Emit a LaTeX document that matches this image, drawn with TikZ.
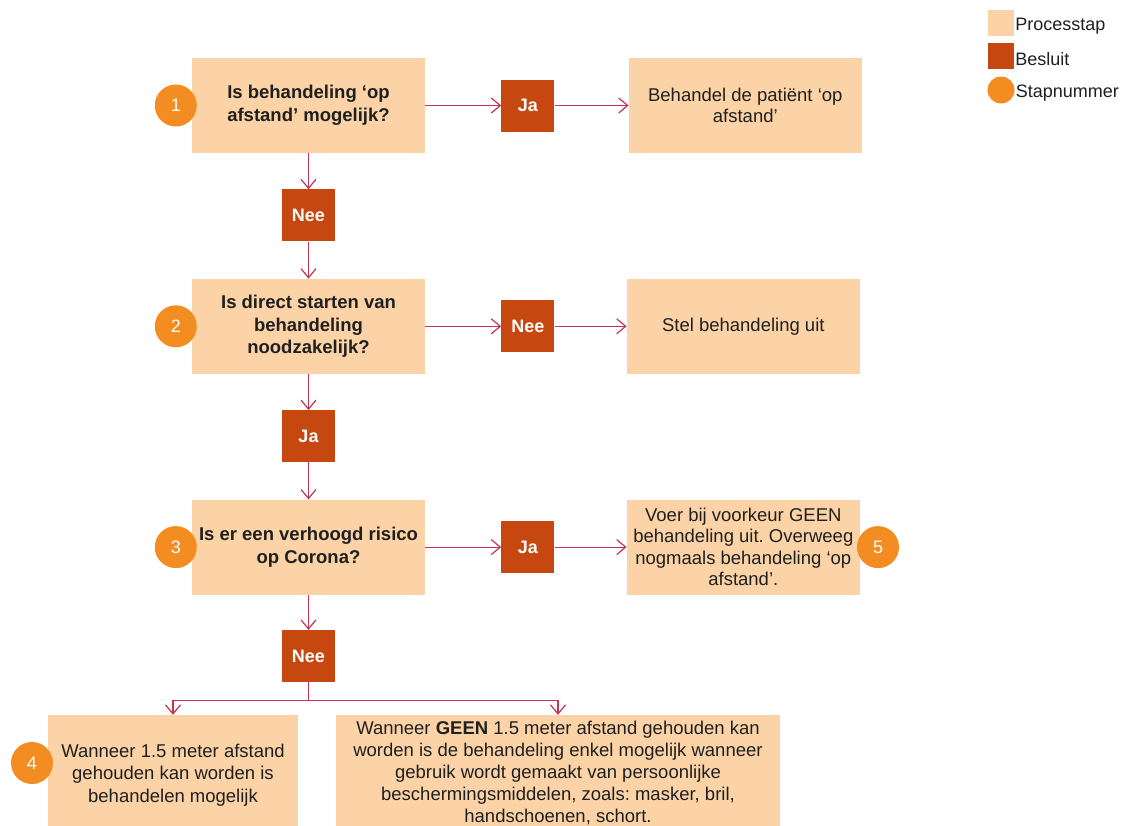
\documentclass[tikz,border=0pt]{standalone}
\usepackage{fontspec}
\setmainfont{Liberation Sans}
\frenchspacing
\usetikzlibrary{positioning,arrows.meta}
\definecolor{stapkleur}{HTML}{FBD3A6}
\definecolor{besluitkleur}{HTML}{C6470F}
\definecolor{nummerkleur}{HTML}{F48D21}
\definecolor{pijlkleur}{HTML}{C2344F}

\begin{document}
\begin{tikzpicture}[x=1pt, y=-1pt,
  stap/.style={fill=stapkleur, shape=rectangle, minimum width=233pt, minimum height=95pt, inner sep=2pt, align=center, text=black!88, font=\fontsize{18.5}{21.5}\selectfont},
  vraag/.style={stap, font=\fontsize{18.5}{22.5}\selectfont\bfseries},
  besluit/.style={fill=besluitkleur, shape=rectangle, minimum width=53pt, minimum height=52pt, text=white, font=\fontsize{18}{20}\selectfont\bfseries},
  nummer/.style={fill=nummerkleur, shape=circle, minimum size=42pt, inner sep=0pt, text=white, font=\fontsize{18}{20}\selectfont},
  pijl/.style={draw=pijlkleur, line width=1.2pt, -{Straight Barb[length=9pt,width=15pt]}},
  legenda/.style={right=1pt, yshift=-3pt, inner sep=0pt, text=black!88, font=\fontsize{18}{20}\selectfont}]
\useasboundingbox (0,0) rectangle (1132,825);
\clip (0,0) rectangle (1132,825);

\node[vraag] (vraag1) at (308.5,105.5) {Is behandeling ‘op\\afstand’ mogelijk?};
\node[besluit, right=76pt of vraag1] (ja1) {Ja};
\node[stap, right=74pt of ja1] (opafstand) {Behandel de patiënt ‘op\\afstand’};
\node[besluit, below=36pt of vraag1] (nee1) {Nee};

\node[vraag, below=37pt of nee1] (vraag2) {Is direct starten van\\behandeling\\noodzakelijk?};
\node[besluit, right=76pt of vraag2] (nee2) {Nee};
\node[stap, right=72pt of nee2] (uitstel) {Stel behandeling uit};
\node[besluit, below=36pt of vraag2] (ja2) {Ja};

\node[vraag, below=37pt of ja2] (vraag3) {Is er een verhoogd risico\\op Corona?};
\node[besluit, right=76pt of vraag3] (ja3) {Ja};
\node[stap, right=72pt of ja3] (geen) {Voer bij voorkeur GEEN\\behandeling uit. Overweeg\\nogmaals behandeling ‘op\\afstand’.};
\node[besluit, below=35pt of vraag3] (nee3) {Nee};

\node[stap, minimum width=250pt, minimum height=120pt, font=\fontsize{18.5}{22.5}\selectfont] (afstand) at (173,775) {Wanneer 1.5 meter afstand\\gehouden kan worden is\\behandelen mogelijk};
\node[stap, minimum width=444pt, minimum height=116pt, font=\fontsize{18.5}{22}\selectfont] (beschermd) at (558,773) {Wanneer \textbf{GEEN} 1.5 meter afstand gehouden kan\\worden is de behandeling enkel mogelijk wanneer\\gebruik wordt gemaakt van persoonlijke\\beschermingsmiddelen, zoals: masker, bril,\\handschoenen, schort.};

\node[nummer] (stap1) at ([xshift=-16pt]vraag1.west) {1};
\node[nummer] (stap2) at ([xshift=-16pt]vraag2.west) {2};
\node[nummer] (stap3) at ([xshift=-16pt]vraag3.west) {3};
\node[nummer] (stap4) at (32,763) {4};
\node[nummer] (stap5) at ([xshift=18pt]geen.east) {5};

\draw[pijl] (vraag1) -- (ja1);
\draw[pijl] (ja1) -- (opafstand);
\draw[pijl] (vraag1) -- (nee1);
\draw[pijl] (nee1) -- (vraag2);
\draw[pijl] (vraag2) -- (nee2);
\draw[pijl] (nee2) -- (uitstel);
\draw[pijl] (vraag2) -- (ja2);
\draw[pijl] (ja2) -- (vraag3);
\draw[pijl] (vraag3) -- (ja3);
\draw[pijl] (ja3) -- (geen);
\draw[pijl] (vraag3.south -| nee3) -- (nee3);
\draw[pijl] (nee3.south) -- ++(0,18) -| (afstand.north);
\draw[pijl] (nee3.south) -- ++(0,18) -| (beschermd.north);

\node[fill=stapkleur, minimum size=26pt, inner sep=0pt] (lstap) at (1001,23) {};
\node[legenda] at (lstap.east) {Processtap};
\node[fill=besluitkleur, minimum size=26pt, inner sep=0pt] (lbesluit) at (1001,56) {};
\node[legenda] at (lbesluit.east) {Besluit};
\node[fill=nummerkleur, shape=circle, minimum size=27pt, inner sep=0pt] (lnummer) at (1001,90) {};
\node[legenda] at (lnummer.east) {Stapnummer};
\end{tikzpicture}
\end{document}
